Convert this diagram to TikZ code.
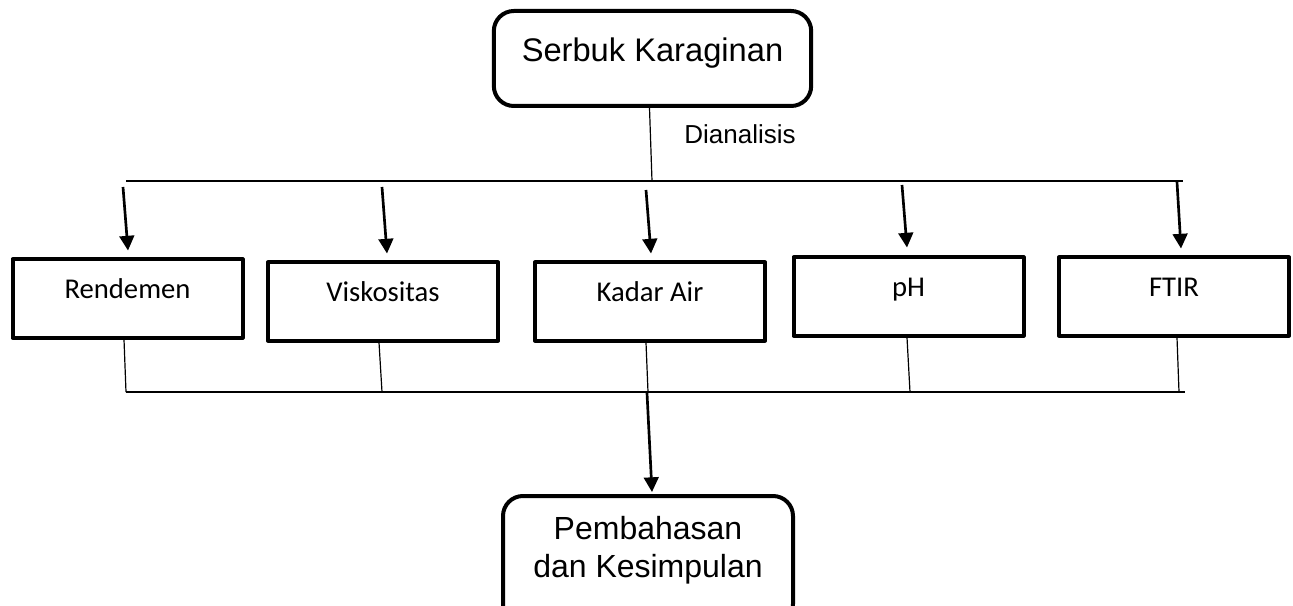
\documentclass[tikz,border=0pt]{standalone}
\usepackage{fontspec}
\setmainfont{Liberation Sans}
\newfontfamily\boxfont{Carlito}
\usetikzlibrary{positioning,calc,arrows.meta}

\begin{document}
\begin{tikzpicture}[
  x=0.75pt,y=-0.75pt,
  endbox/.style={draw,line width=3pt,rounded corners=15pt,align=center,
    minimum width=238pt,font=\fontsize{24.5}{28.5}\selectfont},
  testbox/.style={draw,line width=3pt,line join=round,minimum width=172.5pt,
    text height=14pt,text depth=14.5pt,inner ysep=15pt,
    font=\boxfont\fontsize{21.5}{24}\selectfont},
  bus/.style={draw,line width=1.3pt},
  link/.style={draw,line width=0.9pt},
  drop/.style={draw,line width=2pt,-{Triangle[width=11pt,length=11pt]}},
  ]
  \useasboundingbox (0,0) rectangle (1293,606);
  \node[endbox,text height=19pt,text depth=13.75pt,inner ysep=19.25pt] (flowSerbuk) at (652.5,58.5) {Serbuk Karaginan};
  \node[font=\fontsize{19.5}{22}\selectfont] (flowLabel) at (740,134) {Dianalisis};
  \node[testbox] (flowRendemen) at (127.5,298.5) {Rendemen};
  \node[testbox] (flowViskositas) at (383,301.5) {Viskositas};
  \node[testbox] (flowKadar) at (650,301.5) {Kadar Air};
  \node[testbox] (flowPH) at (908.5,296.5) {pH};
  \node[testbox] (flowFTIR) at (1174,296.5) {FTIR};
  \node[endbox,anchor=north,minimum width=217.5pt,inner ysep=15pt,text depth=20pt,
    font=\fontsize{24}{28.5}\selectfont] (flowHasil) at (648,494) {Pembahasan\\dan Kesimpulan};
  % garis bagi atas
  \coordinate (busTopL) at (126,181);
  \coordinate (busTopR) at (1183,181);
  \coordinate (busTopMid) at (652,181);
  \path[bus] (busTopL) -- (busTopR);
  \path[link] ($(flowSerbuk.south)+(-3,0)$) -- (busTopMid);
  \coordinate (dropA) at (123,187);
  \coordinate (dropB) at (382,187);
  \coordinate (dropC) at (646,190);
  \coordinate (dropD) at (902,185);
  \coordinate (dropE) at (1177,182);
  \path[drop] (dropA) -- ($(flowRendemen.north)+(0.5,-7)$);
  \path[drop] (dropB) -- ($(flowViskositas.north)+(4,-7)$);
  \path[drop] (dropC) -- ($(flowKadar.north)+(1,-7)$);
  \path[drop] (dropD) -- ($(flowPH.north)+(-1.5,-8)$);
  \path[drop] (dropE) -- ($(flowFTIR.north)+(7,-7)$);
  % garis gabung bawah
  \coordinate (joinA) at (126,392);
  \coordinate (joinB) at (382,392);
  \coordinate (joinC) at (648,392);
  \coordinate (joinD) at (910,392);
  \coordinate (joinE) at (1179,392);
  \coordinate (busBotR) at (1185,392);
  \path[bus] (joinA) -- (busBotR);
  \path[link] ($(flowRendemen.south)+(-3.5,0)$) -- (joinA);
  \path[link] ($(flowViskositas.south)+(-4,0)$) -- (joinB);
  \path[link] ($(flowKadar.south)+(-4,0)$) -- (joinC);
  \path[link] ($(flowPH.south)+(-1.5,0)$) -- (joinD);
  \path[link] ($(flowFTIR.south)+(3,0)$) -- (joinE);
  \path[drop] ($(joinC)+(-1,1)$) -- ($(flowHasil.north)+(4,-2)$);
\end{tikzpicture}
\end{document}
